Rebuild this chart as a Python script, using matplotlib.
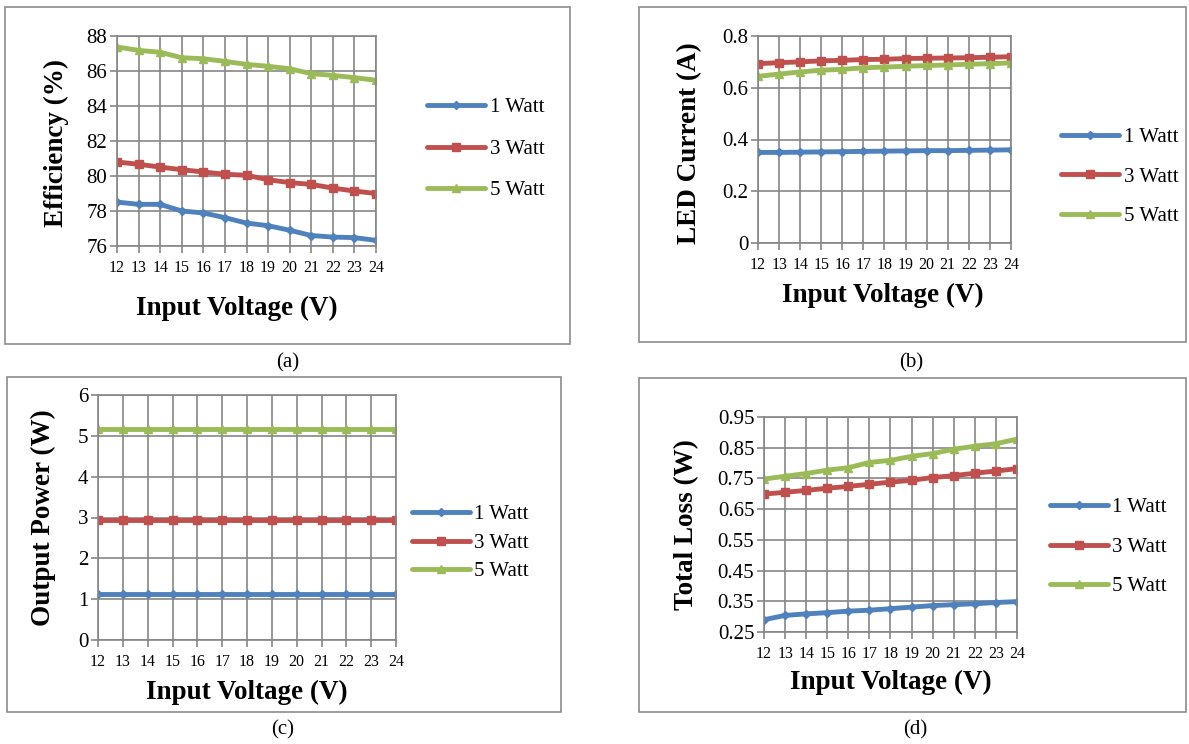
import matplotlib
matplotlib.use("Agg")
import matplotlib.pyplot as plt
from matplotlib.patches import Rectangle

plt.rcParams['font.family'] = ['Liberation Serif', 'DejaVu Serif']

voltage = [12, 13, 14, 15, 16, 17, 18, 19, 20, 21, 22, 23, 24]
series_names = ['1 Watt', '3 Watt', '5 Watt']

eff_1w = [78.51, 78.38, 78.38, 78.0, 77.89, 77.62, 77.31, 77.16, 76.9, 76.6, 76.51, 76.48, 76.32]
eff_3w = [80.8, 80.67, 80.51, 80.36, 80.23, 80.1, 80.04, 79.79, 79.62, 79.52, 79.31, 79.14, 79.0]
eff_5w = [87.37, 87.18, 87.07, 86.76, 86.70, 86.55, 86.38, 86.27, 86.13, 85.85, 85.75, 85.62, 85.47]

cur_1w = [0.350, 0.350, 0.351, 0.352, 0.353, 0.354, 0.355, 0.356, 0.357, 0.357, 0.358, 0.359, 0.360]
cur_3w = [0.693, 0.697, 0.700, 0.704, 0.706, 0.709, 0.710, 0.713, 0.714, 0.715, 0.716, 0.718, 0.720]
cur_5w = [0.644, 0.653, 0.661, 0.668, 0.671, 0.677, 0.680, 0.683, 0.686, 0.688, 0.691, 0.693, 0.696]

pow_1w = [1.12] * 13
pow_3w = [2.95] * 13
pow_5w = [5.17] * 13

loss_1w = [0.290, 0.304, 0.309, 0.313, 0.318, 0.321, 0.326, 0.331, 0.336, 0.339, 0.342, 0.346, 0.349]
loss_3w = [0.699, 0.705, 0.711, 0.718, 0.724, 0.731, 0.738, 0.744, 0.753, 0.759, 0.767, 0.774, 0.782]
loss_5w = [0.748, 0.757, 0.766, 0.777, 0.785, 0.802, 0.809, 0.822, 0.831, 0.845, 0.855, 0.863, 0.878]

colors = ['#4F81BD', '#C0504D', '#9BBB59']
markers = ['D', 's', '^']
msizes = [4.5, 6, 6]

W, H = 1189, 744
fig = plt.figure(figsize=(W / 100, H / 100), dpi=100)


def fx(px):
    return px / W


def fy(py):
    return 1 - py / H


def frame(x0, y0, x1, y1):
    fig.patches.append(Rectangle((fx(x0), fy(y1)), fx(x1 - x0), (y1 - y0) / H,
                                 transform=fig.transFigure, fill=False,
                                 edgecolor='#8c8c8c', linewidth=1.2))


def panel(box, data, ylim, yticks, yfmt, ylabel, ylabel_xy, xlabel_xy, leg_xy, leg_space, caption_xy, caption):
    left, top, right, bottom = box
    ax = fig.add_axes([fx(left), fy(bottom), fx(right - left), (bottom - top) / H])
    for vals, c, m, ms, name in zip(data, colors, markers, msizes, series_names):
        ax.plot(voltage, vals, color=c, linewidth=3.5, marker=m, markersize=ms, label=name,
                solid_capstyle='round')
    ax.set_xlim(voltage[0], voltage[-1])
    ax.set_ylim(*ylim)
    ax.set_xticks(voltage)
    ax.set_yticks(yticks)
    ax.set_yticklabels([yfmt.format(v) for v in yticks])
    ax.grid(True, color='#868686', linewidth=1.2)
    ax.set_axisbelow(True)
    for s in ax.spines.values():
        s.set_color('#868686')
        s.set_linewidth(1.2)
    ax.tick_params(axis='x', labelsize=11.5, length=5, color='#868686', width=1.2, pad=5)
    ax.tick_params(axis='y', labelsize=15, length=5, color='#868686', width=1.2, pad=2)
    fig.text(fx(xlabel_xy[0]), fy(xlabel_xy[1]), 'Input Voltage (V)', fontsize=19.5,
             fontweight='bold', ha='center', va='center')
    fig.text(fx(ylabel_xy[0]), fy(ylabel_xy[1]), ylabel, fontsize=19.5, fontweight='bold',
             ha='center', va='center', rotation=90)
    ax.legend(loc='center left', bbox_to_anchor=(fx(leg_xy[0]), fy(leg_xy[1])),
              bbox_transform=fig.transFigure, frameon=False, fontsize=15,
              handlelength=2.8, handletextpad=0.2, labelspacing=leg_space, borderpad=0,
              borderaxespad=0)
    fig.text(fx(caption_xy[0]), fy(caption_xy[1]), caption, fontsize=15, ha='center', va='center')
    return ax


frame(5, 7, 570, 344)
frame(639, 7, 1186, 342)
frame(7, 377, 561, 712)
frame(639, 378, 1186, 712)

panel((117, 36, 376, 246), [eff_1w, eff_3w, eff_5w], (76, 88), [76, 78, 80, 82, 84, 86, 88], '{:g}',
      'Efficiency (%)', (56, 143), (237, 308), (427, 149), 1.05, (288, 363), '(a)')

panel((758, 36, 1011, 243), [cur_1w, cur_3w, cur_5w], (0, 0.8), [0, 0.2, 0.4, 0.6, 0.8], '{:g}',
      'LED Current (A)', (690, 143), (883, 295), (1061, 177), 0.95, (911, 363), '(b)')

panel((98, 395, 396, 640), [pow_1w, pow_3w, pow_5w], (0, 6), [0, 1, 2, 3, 4, 5, 6], '{:g}',
      'Output Power (W)', (43, 518), (247, 692), (412, 543), 0.43, (283, 730), '(c)')

panel((764, 417, 1017, 632), [loss_1w, loss_3w, loss_5w], (0.25, 0.95),
      [0.25, 0.35, 0.45, 0.55, 0.65, 0.75, 0.85, 0.95], '{:.2f}',
      'Total Loss (W)', (687, 525), (891, 682), (1050, 547), 0.95, (915, 730), '(d)')

fig.savefig('out.png', dpi=100)
